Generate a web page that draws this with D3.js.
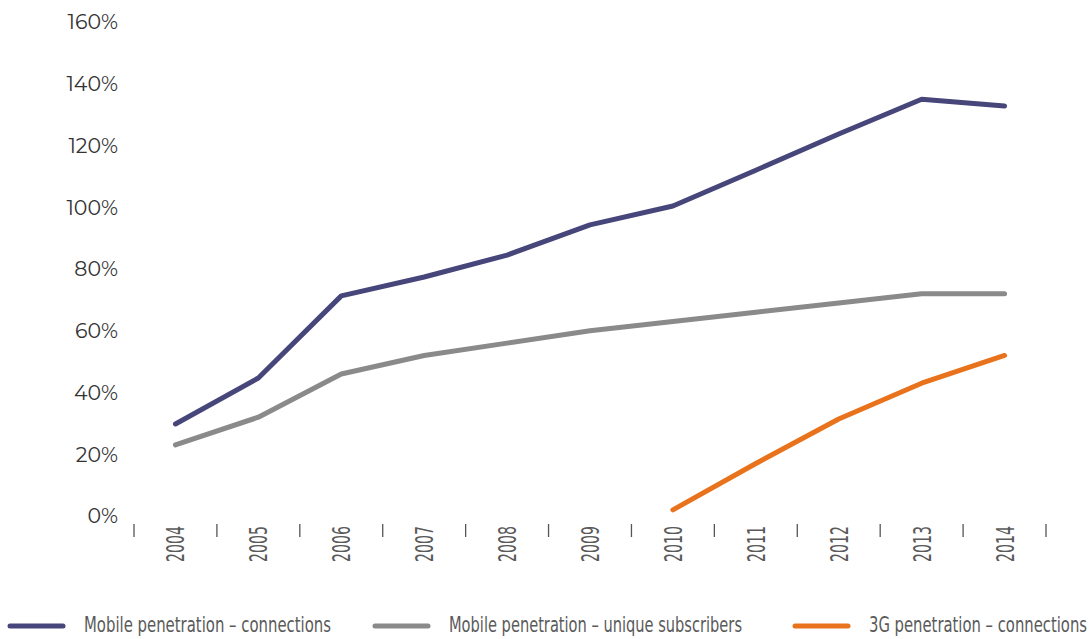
<!DOCTYPE html>
<html lang="en">
<head>
<meta charset="UTF-8">
<title>Mobile penetration</title>
<script src="https://d3js.org/d3.v7.min.js"></script>
<style>
  body { margin: 0; background: #fff; }
  .ylab { font-family: Montserrat, "Open Sans", sans-serif; font-size: 20.5px; fill: #333; }
  .cond { font-family: "Liberation Sans Narrow", "DejaVu Sans Condensed", "DejaVu Sans", sans-serif; fill: #5a5a5a; font-weight: 300; }
</style>
</head>
<body>
<svg id="chart" width="1092" height="639"></svg>
<script>
// years along the bottom
var years = ["2004","2005","2006","2007","2008","2009","2010","2011","2012","2013","2014"];

// values in percent
var mobileConnections = [29.8, 44.7, 71.3, 77.4, 84.5, 94.3, 100.4, 112, 123.7, 135, 132.8];
var uniqueSubscribers = [23, 32, 46, 52, 56, 60, 63, 66, 69, 72, 72];
var threeG = [null, null, null, null, null, null, 2, 17, 31.4, 43, 52];

var yTicks = [0, 20, 40, 60, 80, 100, 120, 140, 160];

var seriesNames = ["Mobile penetration \u2013 connections", "Mobile penetration \u2013 unique subscribers", "3G penetration \u2013 connections"];
var seriesColors = ["#47467a", "#8a8a8a", "#e8731c"];

var svg = d3.select("#chart");

var x = d3.scaleBand().domain(years).range([134, 1046]);
var y = d3.scaleLinear().domain([0, 160]).range([516, 22]);

// y labels, no axis line
svg.append("g").selectAll("text")
  .data(yTicks)
  .enter().append("text")
    .attr("class", "ylab")
    .attr("x", 118)
    .attr("y", function(d) { return y(d); })
    .attr("dy", ".36em")
    .attr("text-anchor", "end")
    .text(function(d) { return d + "%"; });

// small tick marks between the years
var tickPos = years.map(function(d) { return x(d); }).concat([x.range()[1]]);
svg.append("g").selectAll("line")
  .data(tickPos)
  .enter().append("line")
    .attr("x1", function(d) { return d; })
    .attr("x2", function(d) { return d; })
    .attr("y1", 524)
    .attr("y2", 537)
    .attr("stroke", "#555")
    .attr("stroke-width", 1.3);

// rotated year labels, squeezed to look condensed
svg.append("g").selectAll("text")
  .data(years)
  .enter().append("text")
    .attr("class", "cond")
    .attr("font-size", 25)
    .attr("text-anchor", "end")
    .attr("textLength", 36)
    .attr("lengthAdjust", "spacingAndGlyphs")
    .attr("transform", function(d) {
      return "translate(" + (x(d) + x.bandwidth() / 2) + ",526) rotate(-90)";
    })
    .attr("dy", ".36em")
    .text(function(d) { return d; });

// lines
var line = d3.line()
  .defined(function(d) { return d != null; })
  .x(function(d, i) { return x(years[i]) + x.bandwidth() / 2; })
  .y(function(d) { return y(d); });

[mobileConnections, uniqueSubscribers, threeG].forEach(function(vals, k) {
  svg.append("path")
    .datum(vals)
    .attr("fill", "none")
    .attr("stroke", seriesColors[k])
    .attr("stroke-width", 5)
    .attr("stroke-linecap", "round")
    .attr("stroke-linejoin", "round")
    .attr("d", line);
});

// legend
var legendX = [10, 375, 795];
var legendLen = [247, 293, 218];
var legend = svg.append("g").selectAll("g")
  .data(seriesNames)
  .enter().append("g")
    .attr("transform", function(d, i) { return "translate(" + legendX[i] + ",625)"; });

legend.append("line")
  .attr("x1", 0).attr("x2", 53)
  .attr("y1", 1).attr("y2", 1)
  .attr("stroke", function(d, i) { return seriesColors[i]; })
  .attr("stroke-width", 5)
  .attr("stroke-linecap", "round");

legend.append("text")
  .attr("class", "cond")
  .attr("font-size", 22)
  .attr("x", 74)
  .attr("dy", ".32em")
  .attr("textLength", function(d, i) { return legendLen[i]; })
  .attr("lengthAdjust", "spacingAndGlyphs")
  .text(function(d) { return d; });
</script>
</body>
</html>
